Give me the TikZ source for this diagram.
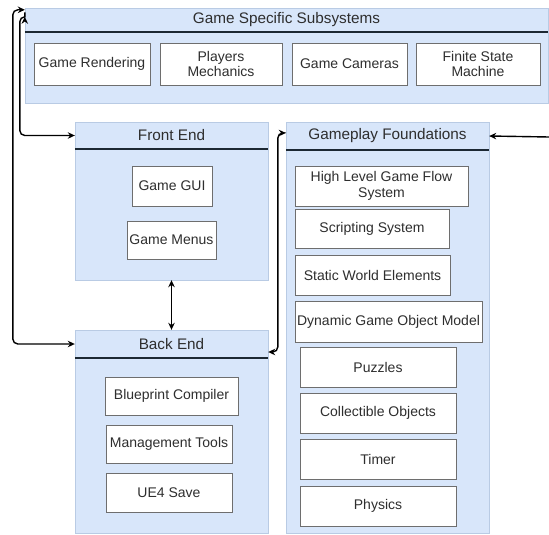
\documentclass[tikz,border=0pt]{standalone}
\usepackage{fontspec}
\setmainfont{Liberation Sans}
\usetikzlibrary{arrows.meta}
\definecolor{panelfill}{HTML}{D8E6FA}
\definecolor{paneldraw}{HTML}{B9CBE4}
\definecolor{boxdraw}{HTML}{6E6E6E}
\definecolor{textgray}{HTML}{2E2E2E}
\definecolor{rulecol}{HTML}{1C2833}

\begin{document}
\begin{tikzpicture}[x=1pt, y=-1pt,
	>={Stealth[length=7pt, width=6.5pt]},
	panel/.style={draw=paneldraw, fill=panelfill, inner sep=0pt},
	head/.style={text=textgray, inner sep=0pt, font=\fontsize{15.3}{17}\selectfont},
	item/.style={draw=boxdraw, fill=white, text=textgray, align=center, inner sep=0pt, font=\fontsize{14}{15.5}\selectfont},
	rule/.style={line width=1.5pt, draw=rulecol},
	link/.style={line width=1.4pt, rounded corners=5pt}]
	\useasboundingbox (0,0) rectangle (549,535);
	% containers
	\node[panel, minimum width=523pt, minimum height=95pt] (gss) at (286.5,55.5) {};
	\node[panel, minimum width=193pt, minimum height=158pt] (fe) at (171.5,201) {};
	\node[panel, minimum width=193pt, minimum height=203pt] (be) at (171.5,431.5) {};
	\node[panel, minimum width=203pt, minimum height=411pt] (gf) at (387.5,327.5) {};
	% headers
	\node[head, minimum width=523pt, minimum height=24pt] (gsshead) at (286.5,20) {Game Specific Subsystems};
	\node[head, minimum width=193pt, minimum height=27pt] (fehead) at (171.5,135.5) {Front End};
	\node[head, minimum width=193pt, minimum height=28pt] (behead) at (171.5,344) {Back End};
	\node[head, minimum width=203pt, minimum height=28pt] (gfhead) at (387.5,136) {Gameplay Foundations};
	\foreach \h in {gsshead, fehead, behead, gfhead} { \draw[rule] (\h.south west) -- (\h.south east); }
	% game specific subsystems
	\node[item, minimum width=116pt, minimum height=42pt] (render) at (92,64) {Game Rendering};
	\node[item, minimum width=122pt, minimum height=42pt] (players) at (221,64) {Players\\Mechanics};
	\node[item, minimum width=115pt, minimum height=42pt] (cameras) at (349.5,64) {Game Cameras};
	\node[item, minimum width=124pt, minimum height=42pt] (fsm) at (478,64) {Finite State\\Machine};
	% front end
	\node[item, minimum width=80pt, minimum height=40pt] (gui) at (172,186) {Game GUI};
	\node[item, minimum width=89pt, minimum height=38pt] (menus) at (171.5,240) {Game Menus};
	% back end
	\node[item, minimum width=133pt, minimum height=38pt] (blueprint) at (171.5,396) {Blueprint Compiler};
	\node[item, minimum width=126pt, minimum height=38pt] (tools) at (169,444) {Management Tools};
	\node[item, minimum width=126pt, minimum height=39pt] (save) at (169,492.5) {UE4 Save};
	% gameplay foundations
	\node[item, minimum width=173pt, minimum height=40pt] (flow) at (381.5,186) {High Level Game Flow\\System};
	\node[item, minimum width=154pt, minimum height=39pt] (script) at (372,228.5) {Scripting System};
	\node[item, minimum width=155pt, minimum height=40pt] (static) at (372.5,275) {Static World Elements};
	\node[item, minimum width=187pt, minimum height=41pt] (dynamic) at (388.5,321.5) {Dynamic Game Object Model};
	\foreach \nm/\y/\txt in {puzzles/367/Puzzles, collect/413/Collectible Objects, timer/459/Timer, physics/506/Physics}
		{ \node[item, minimum width=156pt, minimum height=40pt] (\nm) at (378,\y) {\txt}; }
	% connectors
	\coordinate (rightend) at (549,137);
	\draw[link, <->] (behead.west) -- ++(-62,0) |- ([yshift=-2pt]gsshead.north west);
	\draw[link, <->] (fehead.west) -- ++(-55,0) |- ([yshift=-9pt]gsshead.north west);
	\draw[link, <->] (fe.south) -- (be.north);
	\draw[link, <->] ([yshift=3pt]gfhead.west) -- ++(-8,0) |- ([yshift=-8pt]behead.east);
	\draw[link, ->] (rightend) -- (gfhead.east);
\end{tikzpicture}
\end{document}
